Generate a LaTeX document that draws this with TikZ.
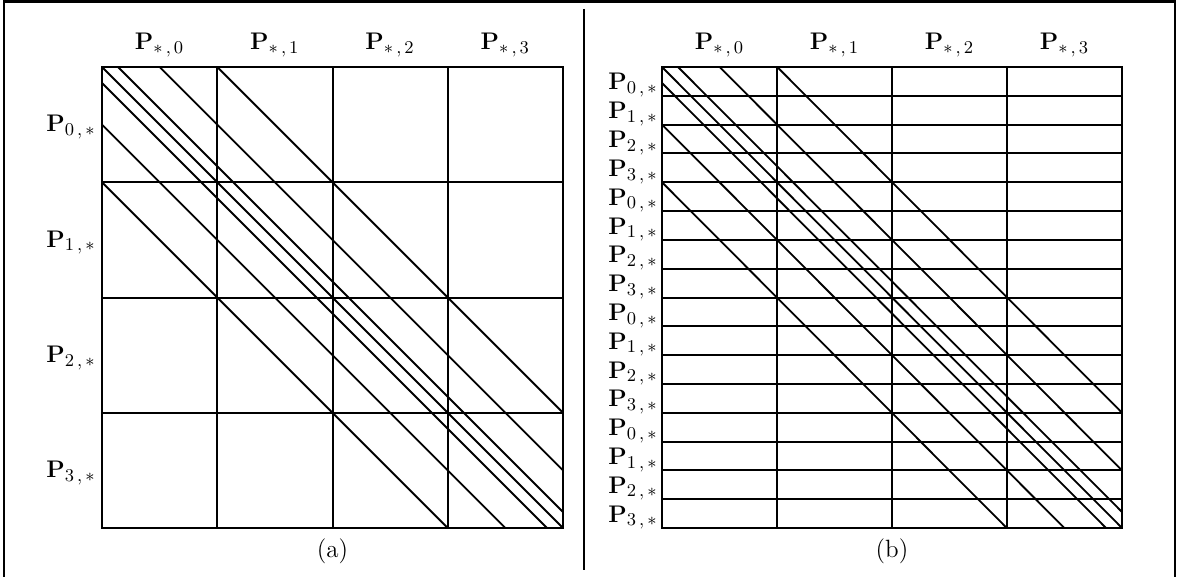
\documentclass[tikz,border=0pt]{standalone}
\begin{document}
\begin{tikzpicture}[x=0.5pt,y=-0.5pt,
  gridline/.style={line width=1pt},
  outerbox/.style={line width=1.3pt},
  diagline/.style={line width=0.9pt},
  frameline/.style={line width=1.4pt},
  lbl/.style={inner sep=0pt, font=\fontsize{13}{15}\selectfont},
  caption/.style={inner sep=0pt, font=\fontsize{12.5}{14}\selectfont}]
\useasboundingbox (0,0) rectangle (1177,577);
% outer frame and separator
\draw[frameline] (4,577) -- (4,1.5) -- (1175,1.5) -- (1175,577);
\draw[line width=1pt] (584,9) -- (584,570);
% ---------------- panel (a) ----------------
\foreach \p in {217,333,448} {
  \draw[gridline] (\p,67) -- (\p,528);
}
\foreach \p in {182,298,413} {
  \draw[gridline] (102,\p) -- (563,\p);
}
\draw[outerbox] (102,67) rectangle (563,528);
\draw[diagline] (102,67) -- (563,528);
\foreach \k in {16,57.6,115.25} {
  \draw[diagline] (102+\k,67) -- (563,528-\k);
  \draw[diagline] (102,67+\k) -- (563-\k,528);
}
\foreach \i in {0,1,2,3} {
  \node[lbl, anchor=base] (ca\i) at (159.6+\i*115.25,50) {$\mathbf{P}_{*\,,\,\i}$};
  \node[lbl, anchor=base east] (ra\i) at (96,132+\i*115.25) {$\mathbf{P}_{\i\,,\,*}$};
}
\node[caption] (capa) at (332.5,551) {(a)};
% ---------------- panel (b) ----------------
\foreach \p in {777,892,1007} {
  \draw[gridline] (\p,67) -- (\p,528);
}
\foreach \p in {96,125,153,182,211,240,269,298,326,355,384,413,442,470,499} {
  \draw[gridline] (662,\p) -- (1122,\p);
}
\draw[outerbox] (662,67) rectangle (1122,528);
\draw[diagline] (662,67) -- (1122,528);
\foreach \k in {16,57.6,115.25} {
  \draw[diagline] (662+\k,67) -- (1122,528-\k);
  \draw[diagline] (662,67+\k) -- (1122-\k,528);
}
\foreach \i in {0,1,2,3} {
  \node[lbl, anchor=base] (cb\i) at (719.5+\i*115,50) {$\mathbf{P}_{*\,,\,\i}$};
}
\foreach \j in {0,...,15} {
  \pgfmathtruncatemacro{\r}{mod(\j,4)}
  \node[lbl, anchor=base east] (rb\j) at (658,90+\j*28.8125) {$\mathbf{P}_{\r\,,\,*}$};
}
\node[caption] (capb) at (892,551) {(b)};
\end{tikzpicture}
\end{document}
